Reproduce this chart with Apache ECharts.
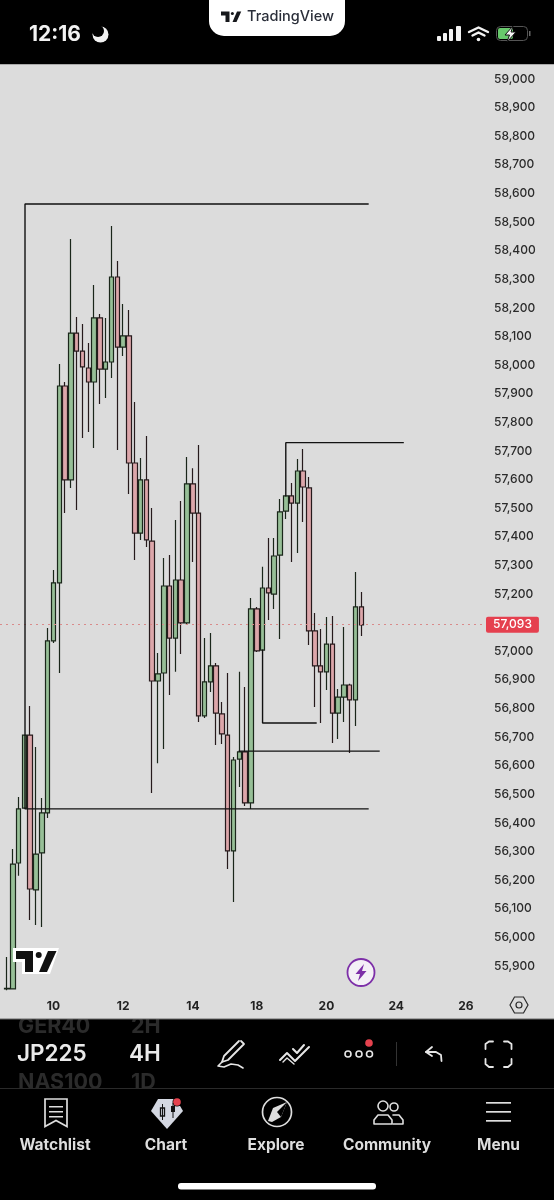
<!DOCTYPE html>
<html><head><meta charset="utf-8">
<style>html,body{margin:0;padding:0;background:#000}#c{width:554px;height:1200px}</style>
<script src="https://cdn.jsdelivr.net/npm/echarts@6/dist/echarts.min.js"></script>
</head><body><div id="c"></div>
<script>
const opens=[55820,55820,56260,56452,56707,56166,56295,56435,57036,57239,57927,57599,58112,58049,57990,57941,58165,57986,58011,58308,58063,58102,57658,57413,57599,57385,56896,56924,57228,57046,57249,57099,57585,57483,56774,56893,56949,56781,56707,56302,56623,56648,56470,57148,57004,57221,57200,57336,57490,57543,57518,57630,57571,57071,56949,56928,57025,56784,56840,56882,56830,57155];
const closes=[55822,56256,56449,56707,56169,56291,56435,57036,57239,57927,57599,58112,58049,57994,57941,58165,57986,58011,58308,58063,58102,57658,57413,57599,57389,56896,56921,57228,57046,57249,57099,57585,57483,56774,56893,56949,56784,56711,56302,56620,56648,56470,57148,57001,57221,57204,57333,57487,57543,57518,57630,57574,57071,56949,56928,57025,56784,56840,56882,56830,57155,57092];
const lows=[55815,55820,56215,56452,56061,56043,56036,56417,57029,56924,57483,57571,57494,57745,57766,57710,57864,57885,57955,57703,58032,57550,57319,57389,57364,56505,56609,56658,56847,56928,56990,57092,57312,56753,56767,56858,56672,56676,56239,56124,56526,56459,56449,56997,57004,57109,57148,57043,57462,57312,57343,57452,57022,56805,56749,56865,56679,56693,56753,56644,56739,57053];
const highs=[55931,56309,56491,56707,56809,56665,56487,57081,57284,58004,57941,58441,58168,58144,58077,58280,58179,58165,58486,58364,58214,58193,57871,57675,57752,57501,56994,57326,57336,57459,57525,57679,57640,57721,57046,57064,56959,56823,56924,56630,56928,56875,57186,57155,57295,57396,57396,57532,57543,57588,57672,57707,57609,57134,57078,57120,57123,56868,57085,56886,57277,57207];
const dateTicks=[8,20,32,43,55,67,79];
const dateNames=['10','12','14','18','20','24','26'];
const lastPrice=57093;
const rangeBox=[[62.15,58563],[3.1,58563],[3.1,56449],[62.15,56449]];
const upperLevel=[[48,57543],[48,57729],[68.2,57729]];
const lowerBracket=[[44,57004],[44,56749],[53.2,56749]];
const midLevel=[[40,56651],[64.05,56651]];

const candles=opens.map((o,i)=>[i,o,closes[i],lows[i],highs[i]]);

const FF='Inter, "Noto Sans", sans-serif';
const els=[];
const T=(x,y,s,size,fill,w,al)=>els.push({type:'text',silent:true,style:{x,y:y+1,text:s,fill,font:(w||600)+' '+size+'px '+FF,textAlign:al||'left',textVerticalAlign:'middle'}});
const R=(x,y,w,h,fill,r,z)=>els.push({type:'rect',silent:true,z:z||0,shape:{x,y,width:w,height:h,r:r||0},style:{fill}});
const C=(cx,cy,r,fill,stroke,lw,z)=>els.push({type:'circle',silent:true,z:z||0,shape:{cx,cy,r},style:{fill:fill||'none',stroke:stroke||'none',lineWidth:lw||0}});
const PL=(pts,stroke,lw,z)=>els.push({type:'polyline',silent:true,z:z||0,shape:{points:pts},style:{stroke,lineWidth:lw||2,fill:'none',lineCap:'round',lineJoin:'round'}});
const PG=(pts,fill,z,stroke,lw)=>els.push({type:'polygon',silent:true,z:z||0,shape:{points:pts},style:{fill,stroke:stroke||'none',lineWidth:lw||0}});
const tvLogo=(ox,oy,s,col,z)=>{const m=p=>p.map(a=>[ox+(a[0]-16)*s,oy+(a[1]-951)*s]);
 PG(m([[16,951],[33,951],[33,972],[25,972],[25,959],[16,959]]),col,z);
 C(ox+22.7*s,oy+4*s,3*s,col,null,0,z);
 PG(m([[48,951],[56.5,951],[47,972],[39,972]]),col,z);};

T(18,1026,'GER40',21.5,'#2b2b2b',700);T(131,1026,'2H',21.5,'#2b2b2b',700);
T(18,1082,'NAS100',21.5,'#2b2b2b',700);T(131,1082,'1D',21.5,'#2b2b2b',700);
R(0,64,554,1,'#a9a9a9');
R(0,65,554,954,'#dcdcdc');
R(0,1018.5,554,1,'#6a6a6a');
R(0,1088,554,112,'#000');
R(0,1088,554,1,'#2a2a2a');
T(29,33.5,'12:16',21,'#f2f2f2',700);
C(100.5,34.5,8,'#f2f2f2');C(98,31,6,'#000');
els.push({type:'rect',silent:true,shape:{x:209,y:-20,width:136,height:56,r:15},style:{fill:'#fff'}});
tvLogo(221,11.5,0.5,'#16181c');
T(247,16,'TradingView',14.5,'#2a2e39',500);
R(437,36,4,5,'#f2f2f2',1);R(443,33,4,8,'#f2f2f2',1);R(449,29,4,12,'#f2f2f2',1);R(456,26,5,15,'#f2f2f2',1);
PL([[469,32],[478.5,27.5],[488,32]],'#f2f2f2',2.4);PL([[472.5,35.5],[478.5,32.5],[484.5,35.5]],'#f2f2f2',2.4);C(478.5,39.5,1.8,'#f2f2f2');
els.push({type:'rect',silent:true,shape:{x:496.5,y:26.5,width:31,height:14,r:4},style:{fill:'none',stroke:'#555',lineWidth:1}});
R(498,28,15,11,'#68c96c',2);R(529,31,1.5,5,'#666');
PG([[513,26],[505,35],[509.5,35],[507,42],[516,32],[511,32]],'#f5f5f5',0,'#111',1);
T(17,1053,'JP225',22.5,'#eaeaea',600);T(129,1053,'4H',22.5,'#eaeaea',600);
PL([[241,1041],[244,1044],[228,1060],[222,1062],[224,1056],[239,1041]],'#e6e6e6',1.8);
PL([[222,1062],[218,1066],[224,1067],[231,1064],[238,1065],[243,1068]],'#e6e6e6',1.6);
PL([[280,1060],[287,1053],[295,1061],[309,1047]],'#e6e6e6',2);PL([[283,1062],[287,1058],[294,1064]],'#e6e6e6',1.4);PL([[293,1049],[297,1053],[304,1045]],'#e6e6e6',2);
C(348,1054,3,'none','#e6e6e6',1.6);C(359,1054,3,'none','#e6e6e6',1.6);C(369.5,1054,3,'none','#e6e6e6',1.6);C(369,1043,3.8,'#e5424e');
R(396,1042,1,24,'#333');
PL([[432,1047],[426,1052],[432,1056]],'#e6e6e6',1.8);PL([[426,1052],[436,1052],[441,1055],[441.5,1061]],'#e6e6e6',1.8);
PL([[485.5,1049],[485.5,1044],[489,1041.5],[493,1041.5]],'#e6e6e6',1.8);PL([[504,1041.5],[508,1041.5],[511.5,1044],[511.5,1049]],'#e6e6e6',1.8);
PL([[485.5,1059],[485.5,1064],[489,1067],[493,1067]],'#e6e6e6',1.8);PL([[504,1067],[508,1067],[511.5,1064],[511.5,1059]],'#e6e6e6',1.8);
PG([[45,1099],[67,1099],[67,1126.5],[56,1120.5],[45,1126.5]],'none',0,'#dedede',1.7);
R(49,1106,14,1.5,'#dedede');R(49,1111,14,1.5,'#dedede');R(49,1116,14,1.5,'#dedede');
PG([[158,1099],[176,1099],[183,1111],[167,1129],[151,1111]],'#d4d8e2');
C(177,1102,4.5,'#000');C(177,1102,3.8,'#e5424e');
els.push({type:'rect',silent:true,shape:{x:160.5,y:1108,width:4,height:8},style:{fill:'none',stroke:'#111',lineWidth:1.3}});
R(162,1104,1,16,'#111');R(171,1106,4,6,'#111');R(172.5,1103,1,15,'#111');
C(277,1112,14.5,'none','#dedede',1.7);
PG([[287,1102],[281,1117],[272,1122],[268,1121],[273,1108]],'#dedede');PG([[287,1102],[277,1112],[281,1117]],'#000');
C(383,1106,5,'none','#dedede',1.6);C(394,1107,4,'none','#dedede',1.6);
PL([[374,1124],[374,1120],[378,1115],[388,1115],[392,1120],[392,1124],[374,1124]],'#dedede',1.6);
PL([[393,1115],[399,1115],[403,1120],[403,1124],[393,1124]],'#dedede',1.6);
R(486,1102,25,1.7,'#dedede');R(486,1111,25,1.7,'#dedede');R(486,1120,25,1.7,'#dedede');
const nav=[['Watchlist',55],['Chart',166],['Explore',276],['Community',387],['Menu',498.5]];
nav.forEach(n=>T(n[1],1144,n[0],15.5,'#dedede',700,'center'));
R(178,1183,198,6.5,'#fff',3);
PG([[13,948],[59,948],[50,974],[22,974],[22,962],[13,962]],'#fff',20);tvLogo(16,951,1,'#111',21);
C(361,972.5,13.5,'#f4f0f6','#7d2fa8',1.8,20);
PG([[364,964],[355.5,974],[360,974],[358,981],[366.5,971],[362,971]],'#7d2fa8',21);
els.push({type:'polygon',silent:true,shape:{points:[[510,1005],[514.5,997],[523.5,997],[528,1005],[523.5,1013],[514.5,1013]]},style:{fill:'none',stroke:'#2a2a2a',lineWidth:1.2}});
C(519,1005,3,'none','#2a2a2a',1.2);

const lineSeries=d=>({type:'line',data:d,showSymbol:false,silent:true,animation:false,z:5,clip:true,
  lineStyle:{color:'#111',width:1.4,cap:'square'}});

const chart=echarts.init(document.getElementById('c'),null,{renderer:'canvas',width:554,height:1200});
chart.setOption({
  animation:false,backgroundColor:'#000',
  graphic:{elements:els},
  grid:{left:0,top:50.4,width:486,height:944.2,containLabel:false},
  xAxis:{type:'value',min:-1.205,max:82.47,position:'bottom',axisLine:{show:false},axisTick:{show:false},splitLine:{show:false},
    axisLabel:{customValues:dateTicks,margin:6,color:'#222',fontFamily:FF,fontWeight:700,fontSize:12,hideOverlap:false,showMinLabel:true,showMaxLabel:true,
      formatter:v=>dateNames[dateTicks.indexOf(v)]||''}},
  yAxis:{type:'value',position:'right',min:55800,max:59100,interval:100,axisLine:{show:false},axisTick:{show:false},splitLine:{show:false},
    axisLabel:{margin:8,color:'#2b2b2b',fontFamily:FF,fontWeight:500,fontSize:12,padding:[2,0,0,0],
      formatter:v=>(v===59100||v===55800||v===57100)?'':String(v).replace(/(\d)(\d{3})$/,'$1,$2')}},
  series:[
   {type:'candlestick',data:candles,barWidth:5,silent:true,z:3,
    itemStyle:{color:'#97bf97',color0:'#dca6aa',borderColor:'#1a261a',borderColor0:'#261a1c',borderWidth:1.2},
    markLine:{symbol:'none',silent:true,animation:false,precision:0,
      lineStyle:{type:[2,4],color:'#d98a8a',width:1},
      label:{show:true,position:'end',distance:0,formatter:'57,093',color:'#fff',backgroundColor:'#e5404f',borderRadius:2,padding:[2,7,2,7],fontFamily:FF,fontWeight:500,fontSize:12},
      data:[{yAxis:lastPrice}]}},
   lineSeries(rangeBox),lineSeries(upperLevel),lineSeries(lowerBracket),lineSeries(midLevel)
  ]
});
</script></body></html>
